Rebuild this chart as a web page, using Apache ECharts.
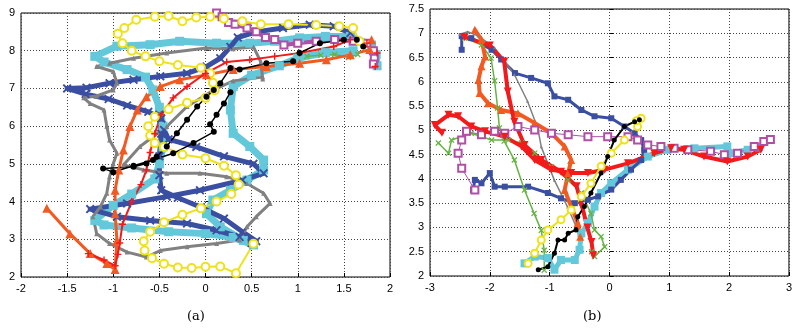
<!DOCTYPE html>
<html>
<head>
<meta charset="utf-8">
<script src="https://cdn.jsdelivr.net/npm/echarts@6/dist/echarts.min.js"></script>
<style>
  html, body { margin: 0; padding: 0; background: #fff; }
  #chart { width: 795px; height: 332px; }
</style>
</head>
<body>
<div id="chart"></div>
<script>
// ---- panel (a) ----
var aYellow = [[0.52,2.88],[0.33,2.1],[0.16,2.28],[0.0,2.27],[-0.15,2.24],[-0.3,2.25],[-0.45,2.35],[-0.58,2.5],[-0.66,2.7],[-0.67,2.95],[-0.6,3.2],[-0.45,3.45],[-0.25,3.65],[-0.05,3.82],[0.12,4.0],[0.28,4.2],[0.36,4.45],[0.33,4.7],[0.2,4.95],[0.0,5.15],[-0.25,5.25],[-0.45,5.45],[-0.55,5.55],[-0.6,5.75],[-0.62,6.0],[-0.55,6.25],[-0.4,6.45],[-0.2,6.62],[0.0,6.75],[0.1,6.95],[0.08,7.15],[0.05,7.4],[-0.05,7.55],[-0.3,7.62],[-0.5,7.72],[-0.65,7.85],[-0.8,8.0],[-0.9,8.2],[-0.95,8.45],[-0.88,8.6],[-0.75,8.82],[-0.55,8.9],[-0.4,8.92],[-0.25,8.78],[-0.1,8.88],[0.05,8.9],[0.2,8.85],[0.4,8.78],[0.6,8.7],[0.9,8.7],[1.2,8.68],[1.45,8.65],[1.6,8.6],[1.67,8.25]];
var aMagenta = [[0.12,9.0],[0.18,8.9],[0.25,8.75],[0.32,8.7],[0.45,8.6],[0.55,8.5],[0.65,8.35],[0.75,8.3],[0.85,8.15],[1.0,8.2],[1.2,8.25],[1.4,8.3],[1.6,8.25],[1.75,8.2],[1.82,8.0],[1.83,7.8],[1.82,7.65]];
var aBlue = [[1.57,8.47],[1.39,8.65],[1.13,8.69],[0.84,8.6],[0.55,8.5],[0.35,8.35],[0.27,8.1],[0.16,7.8],[0.01,7.58],[-0.2,7.4],[-0.49,7.32],[-0.78,7.23],[-1.04,7.14],[-1.29,7.02],[-1.5,7.0],[-1.3,6.85],[-1.05,6.72],[-0.85,6.55],[-0.62,6.38],[-0.48,6.2],[-0.45,5.9],[-0.4,5.65],[-0.1,5.45],[0.2,5.2],[0.52,5.0],[0.63,4.75],[0.4,4.57],[-0.06,4.3],[-0.42,4.13],[-0.85,3.95],[-1.25,3.8],[-0.96,3.6],[-0.6,3.5],[-0.2,3.42],[0.12,3.24],[0.37,3.06],[0.5,2.9],
  null,[-0.5,6.3],[-0.48,5.8],[-0.5,5.2],[-0.5,4.7],[-0.48,4.3],[-0.3,4.1],[-0.05,3.85],[0.2,3.55],[0.4,3.2],[0.55,2.95]];
var aCyan = [[1.86,7.6],[1.85,7.9],[1.8,8.15],[1.57,8.38],[1.3,8.38],[1.02,8.34],[0.75,8.25],[0.48,8.2],[0.12,8.2],[-0.28,8.25],[-0.6,8.16],[-0.96,8.12],[-1.2,7.85],[-1.1,7.7],[-0.85,7.5],[-0.65,7.3],[-0.57,6.96],[-0.5,6.5],[-0.46,6.0],[-0.46,5.45],[-0.5,5.0],[-0.55,4.6],[-0.8,4.2],[-1.0,3.9],[-1.2,3.5],[-1.1,3.38],[-0.8,3.3],[-0.4,3.2],[0.0,3.15],[0.3,3.05],[0.52,2.85],[0.41,2.97],[0.16,3.33],[0.01,3.68],[0.08,4.04],[0.27,4.3],[0.45,4.57],[0.63,4.84],[0.63,5.1],[0.48,5.46],[0.3,5.81],[0.27,6.43],[0.3,7.05],[0.5,7.35],[0.8,7.6],[1.0,7.8],[1.3,7.95],[1.6,8.0]];
var aGray = [[0.62,7.25],[0.6,7.7],[0.52,8.1],[0.3,8.05],[0.01,8.07],[-0.42,7.94],[-0.78,7.8],[-1.04,7.67],[-1.18,7.58],[-1.0,7.45],[-0.96,7.14],[-1.0,6.96],[-1.18,6.8],[-1.32,6.75],[-1.25,6.6],[-1.1,6.43],[-1.07,6.0],[-1.04,5.63],[-0.96,5.28],[-1.0,5.0],[-1.04,4.66],[-1.07,4.22],[-1.14,3.86],[-1.22,3.6],[-1.18,3.15],[-1.04,2.89],[-0.85,2.66],[-0.64,2.53],[-0.49,2.7],[-0.2,2.8],[0.12,2.89],[0.37,2.98],[0.45,3.33],[0.55,3.6],[0.7,3.95],[0.63,4.22],[0.45,4.48],[0.23,4.66],[-0.06,4.75],[-0.42,4.75],[-0.67,4.84],[-0.89,4.97],[-0.71,5.46],[-0.42,5.99],[-0.2,6.52],[0.09,6.96],[0.3,7.2],[0.62,7.3]];
var aOrange = [[-1.72,3.82],[-1.47,3.15],[-1.25,2.62],[-1.07,2.36],[-0.98,2.2],[-0.96,2.97],[-0.98,3.68],[-0.98,4.3],[-0.94,4.84],[-0.89,5.37],[-0.82,5.99],[-0.74,6.43],[-0.64,6.78],[-0.49,7.05],[-0.28,7.23],[0.01,7.36],[0.3,7.5],[0.66,7.58],[1.02,7.67],[1.31,7.76],[1.57,7.89],[1.78,8.03],[1.8,8.29]];
var aRed = [[-1.27,2.62],[-1.1,2.45],[-0.98,2.3],[-0.95,2.6],[-0.93,2.9],[-0.9,3.4],[-0.8,4.0],[-0.7,4.45],[-0.64,4.84],[-0.6,5.3],[-0.55,5.8],[-0.48,6.3],[-0.35,6.75],[-0.2,7.05],[0.0,7.4],[0.23,7.7],[0.48,7.76],[0.75,7.85],[1.02,7.94],[1.39,8.11],[1.57,8.29],[1.75,8.2],[1.86,7.94],[1.84,7.58]];
var aBlack = [[0.27,6.9],[0.2,6.6],[0.12,6.3],[0.05,6.05],[0.09,5.85],[-0.13,5.55],[-0.35,5.28],[-0.57,5.1],[-0.78,4.95],[-1.0,4.78],[-1.11,4.88],[-0.78,4.92],[-0.64,5.01],[-0.53,5.19],[-0.42,5.46],[-0.31,5.81],[-0.2,6.17],[-0.09,6.52],[0.01,6.78],[0.09,6.96],[0.16,7.14],[0.27,7.54],[0.37,7.5],[0.66,7.67],[0.95,7.72],[1.02,7.94],[1.24,8.2],[1.5,8.29],[1.64,8.29],[1.71,8.11]];
var aGreen = [[1.1,7.85],[1.25,7.88],[1.4,7.9],[1.55,7.82],[1.65,7.9]];

// ---- panel (b) ----
var bBlue = [[-2.47,6.66],[-2.47,6.94],[-2.31,6.9],[-1.97,6.66],[-1.81,6.46],[-1.58,6.18],[-1.31,6.08],[-1.03,5.97],[-0.92,5.7],[-0.69,5.63],[-0.47,5.42],[-0.25,5.29],[0.03,5.25],[0.25,5.08],[0.42,4.94],[0.53,4.8],[0.58,4.6],[0.53,4.39],[0.36,4.19],[0.19,3.98],[0.03,3.78],[-0.19,3.64],[-0.36,3.57],[-0.58,3.5],[-0.81,3.6],[-1.03,3.71],[-1.36,3.84],[-1.75,3.84],[-1.92,3.84],[-2.0,4.12],[-2.14,3.91],[-2.25,3.98],[-2.28,3.77]];
var bMagenta = [[-2.25,3.77],[-2.47,4.22],[-2.53,4.53],[-2.47,4.8],[-2.39,4.98],[-2.14,4.91],[-1.92,4.98],[-1.75,4.94],[-1.53,5.08],[-1.25,5.01],[-0.97,4.94],[-0.69,4.91],[-0.36,4.87],[-0.03,4.87],[0.31,4.87],[0.47,4.8],[0.64,4.7],[0.86,4.67],[1.08,4.63],[1.31,4.6],[1.69,4.57],[1.92,4.5],[2.14,4.53],[2.42,4.67],[2.58,4.77],[2.69,4.81]];
var bRed = [[-2.42,6.92],[-2.0,6.75],[-1.76,6.42],[-1.7,5.8],[-1.59,5.18],[-1.42,4.7],[-1.14,4.39],[-0.81,4.15],[-0.55,3.85],[-0.45,3.4],[-0.37,3.0],[-0.3,2.7],[-0.27,2.42],
  null,[-2.8,4.95],[-2.92,5.11],[-2.69,5.32],[-2.53,5.29],[-2.31,5.08],[-2.08,4.98],[-1.75,4.87],[-1.47,4.67],[-1.25,4.39],[-0.97,4.19],[-0.64,4.12],[-0.36,4.12],[-0.08,4.19],[0.31,4.32],[0.75,4.53],[1.03,4.63],[1.25,4.6],[1.58,4.46],[1.97,4.36],[2.31,4.46],[2.53,4.6]];
var bOrange = [[-2.25,7.07],[-2.14,6.87],[-2.08,6.52],[-2.14,6.32],[-2.19,6.04],[-2.17,5.77],[-2.03,5.56],[-1.81,5.42],[-1.53,5.35],[-1.25,5.15],[-0.97,4.94],[-0.75,4.67],[-0.64,4.39],[-0.69,4.12],[-0.75,3.77],[-0.64,3.43],[-0.53,3.09],[-0.49,2.81]];
var bGray = [[-2.5,6.98],[-2.37,7.03],[-2.2,6.95],[-1.92,6.7],[-1.59,6.15],[-1.37,5.6],[-1.2,5.05],[-1.14,4.66],[-0.92,3.97],[-0.7,3.42],[-0.53,2.94],[-0.5,2.82]];
var bGreen = [[-2.42,6.9],[-2.14,6.76],[-1.98,6.49],[-1.92,6.02],[-1.87,5.46],[-1.84,5.05],[-1.76,4.78],[-1.59,4.39],[-1.42,3.77],[-1.26,3.29],[-1.14,2.94],[-1.09,2.53],[-1.09,2.12],
  null,[-2.86,4.74],[-2.69,4.53],[-2.64,4.8],[-2.31,4.94],[-1.97,4.8],[-1.69,4.8],[-1.47,4.74],[-1.25,4.53],[-0.97,4.25],[-0.69,3.98],[-0.47,3.71],[-0.31,3.29],[-0.25,2.95],[-0.14,2.81],[-0.08,2.6],[-0.25,2.4],[-0.3,2.5]];
var bCyan = [[-1.42,2.26],[-1.25,2.4],[-1.03,2.37],[-0.92,2.13],[-0.81,2.33],[-0.58,2.33],[-0.5,2.54],[-0.47,2.88],[-0.36,3.09],[-0.25,3.43],[-0.14,3.71],[0.03,3.91],[0.31,4.19],[0.64,4.46],[0.97,4.6],[1.42,4.63],[1.97,4.67],[2.03,4.53],[2.31,4.6],[2.5,4.65]];
var bYellow = [[-1.36,2.26],[-1.25,2.47],[-1.14,2.74],[-1.03,2.95],[-0.81,3.16],[-0.64,3.36],[-0.47,3.64],[-0.31,3.91],[-0.14,4.26],[0.03,4.53],[0.25,4.8],[0.47,5.08],[0.53,5.25],[0.45,5.2]];
var bBlack = [[-1.19,2.13],[-1.03,2.19],[-0.92,2.47],[-0.86,2.74],[-0.75,2.74],[-0.69,2.88],[-0.56,2.95],[-0.53,3.22],[-0.42,3.43],[-0.31,3.71],[-0.14,4.12],[-0.03,4.46],[0.08,4.8],[0.25,5.08],[0.42,5.18],[0.5,5.22]];

var C = {
  yellow: '#EEE21C', magenta: '#B04FA6', blue: '#3A4EA2', cyan: '#62C8DA',
  gray: '#818181', red: '#F21A1A', orange: '#F25A22', black: '#000000', green: '#66B442'
};
var PLUS = 'path://M4,0H6V4H10V6H6V10H4V6H0V4H4Z';
var CROSS = 'path://M0,1.5L1.5,0L5,3.5L8.5,0L10,1.5L6.5,5L10,8.5L8.5,10L5,6.5L1.5,10L0,8.5L3.5,5Z';

function line(data, color, symbol, size, lw, idx, rot) {
  return {
    type: 'line', data: data, xAxisIndex: idx, yAxisIndex: idx,
    symbol: symbol, symbolSize: size, symbolRotate: rot || 0,
    showSymbol: true, connectNulls: false, animation: false, silent: true,
    lineStyle: { color: color, width: lw, join: 'round', cap: 'round' },
    itemStyle: { color: color, borderColor: color, borderWidth: symbol.indexOf('empty') === 0 ? 1.5 : 0 }
  };
}

var axisText = { color: '#000', fontSize: 11, fontFamily: 'Liberation Sans, Arial, sans-serif' };
function ax(idx, min, max, step) {
  return {
    type: 'value', gridIndex: idx, min: min, max: max, interval: step,
    axisLine: { show: false }, axisTick: { inside: true, length: 4, lineStyle: { color: '#000' } },
    axisLabel: Object.assign({ margin: 6 }, axisText),
    splitLine: { lineStyle: { color: '#444', type: [1, 2], width: 1 } }
  };
}

var chart = echarts.init(document.getElementById('chart'));
chart.setOption({
  backgroundColor: '#fff',
  animation: false,
  grid: [
    { left: 21, top: 13, width: 369, height: 264, show: true, borderColor: '#000', borderWidth: 1 },
    { left: 430, top: 9, width: 360, height: 267, show: true, borderColor: '#000', borderWidth: 1 }
  ],
  xAxis: [ax(0, -2, 2, 0.5), ax(1, -3, 3, 1)],
  yAxis: [ax(0, 2, 9, 1), ax(1, 2, 7.5, 0.5)],
  graphic: [
    { type: 'text', left: 187, top: 310, style: { text: '(a)', fontSize: 13, fontFamily: 'DejaVu Serif, serif', fill: '#000' } },
    { type: 'text', left: 583, top: 310, style: { text: '(b)', fontSize: 13, fontFamily: 'DejaVu Serif, serif', fill: '#000' } }
  ],
  series: [
    line(aCyan, C.cyan, 'rect', 9, 7, 0),
    line(aBlue, C.blue, CROSS, 9, 5, 0),
    line(aGray, C.gray, 'triangle', 5, 3, 0),
    line(aMagenta, C.magenta, 'emptyRect', 7, 4, 0),
    line(aGreen, C.green, CROSS, 6, 1.5, 0),
    line(aYellow, C.yellow, 'emptyCircle', 8, 2, 0),
    line(aOrange, C.orange, 'triangle', 9, 3, 0),
    line(aRed, C.red, PLUS, 7, 2, 0),
    line(aBlack, C.black, 'circle', 6, 1.5, 0),

    line(bCyan, C.cyan, 'rect', 8, 5, 1),
    line(bBlue, C.blue, 'rect', 6, 3, 1),
    line(bGray, C.gray, 'triangle', 3, 1.5, 1),
    line(bGreen, C.green, CROSS, 6, 1.5, 1),
    line(bOrange, C.orange, 'triangle', 8, 4, 1),
    line(bMagenta, C.magenta, 'emptyRect', 7, 1, 1),
    line(bRed, C.red, 'triangle', 8, 4, 1, 180),
    line(bYellow, C.yellow, 'emptyCircle', 7, 2, 1),
    line(bBlack, C.black, 'circle', 5, 2, 1)
  ]
});
</script>
</body>
</html>
